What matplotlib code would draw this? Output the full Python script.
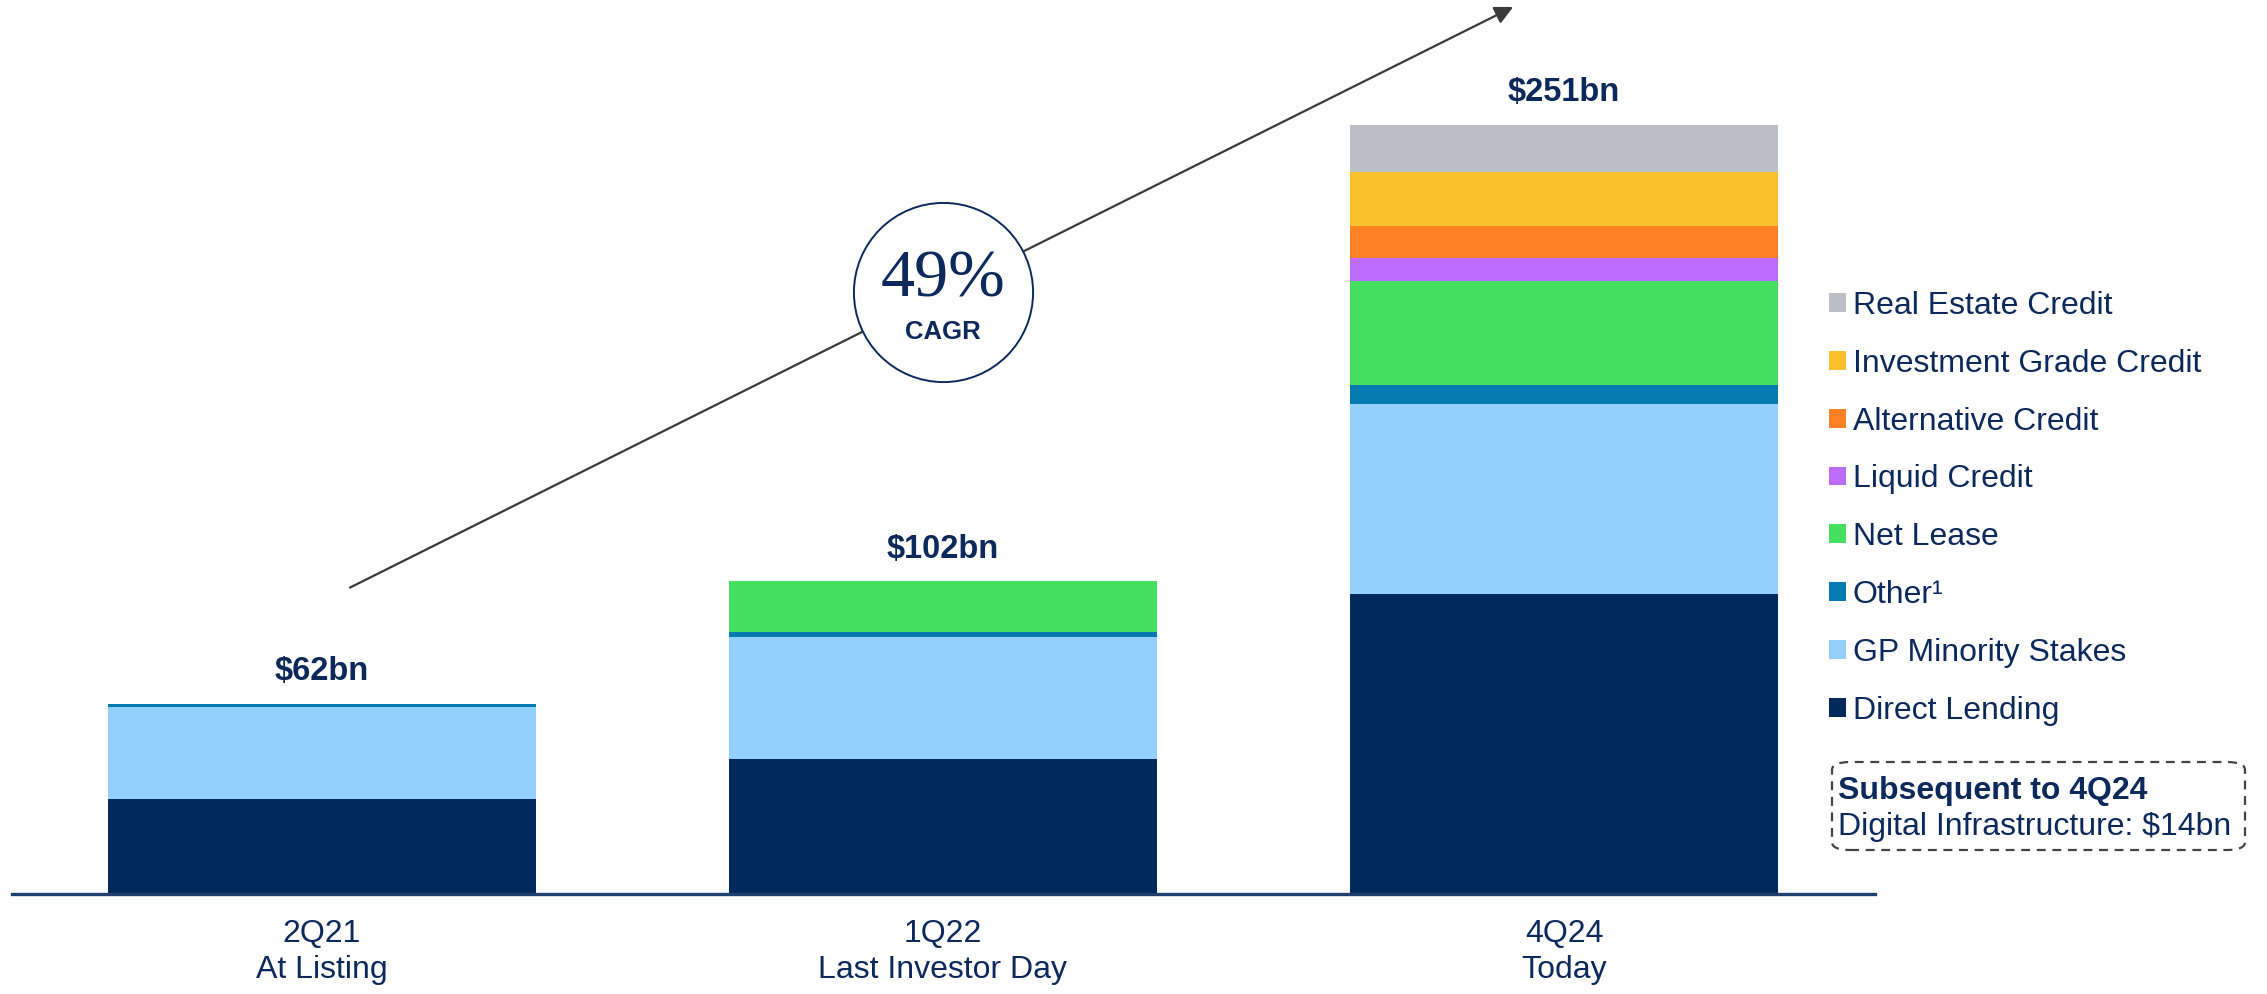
import matplotlib
matplotlib.use("Agg")
from matplotlib import pyplot as plt
from matplotlib.patches import Patch, FancyBboxPatch
import numpy as np

plt.rcParams['font.family'] = ['Liberation Sans', 'DejaVu Sans']

NAVY = "#0B2A5B"

periods = ["2Q21\nAt Listing", "1Q22\nLast Investor Day", "4Q24\nToday"]
totals = [62, 102, 251]

# AUM by strategy, $bn (bottom to top)
direct_lending = [31, 44, 98]
gp_minority = [30, 40, 62]
other = [1, 1.5, 6]
net_lease = [0, 16.5, 34]
liquid_credit = [0, 0, 7.5]
alternative_credit = [0, 0, 10.5]
ig_credit = [0, 0, 17.5]
real_estate_credit = [0, 0, 15.5]

series = [
    ("Direct Lending", direct_lending, "#002A5C"),
    ("GP Minority Stakes", gp_minority, "#93D1FC"),
    ("Other¹", other, "#037BB0"),
    ("Net Lease", net_lease, "#46E060"),
    ("Liquid Credit", liquid_credit, "#BC6DFF"),
    ("Alternative Credit", alternative_credit, "#FF8124"),
    ("Investment Grade Credit", ig_credit, "#F9C12C"),
    ("Real Estate Credit", real_estate_credit, "#BBBEC7"),
]

cagr_label = "49%"

W, H = 2267, 994
fig = plt.figure(figsize=(W / 100, H / 100), dpi=100)
# axes: x from 11.5px to 1874.5px, baseline at 894px, 3.064 px per $bn
ax = fig.add_axes([11.5 / W, 100 / H, 1863 / W, 890 / H])
ax.set_xlim(-0.5, 2.5)
ax.set_ylim(0, 890 / 3.064)

x = np.arange(len(periods))
bottom = np.zeros(len(periods))
handles = []
for name, vals, color in series:
    vals = np.array(vals, dtype=float)
    ax.bar(x, vals, width=0.69, bottom=bottom, color=color, linewidth=0, zorder=2)
    bottom += vals
    handles.append(Patch(facecolor=color, label=name))

for xi, tot in zip(x, totals):
    ax.text(xi, tot + 10.5, f"${tot}bn", ha="center", va="center",
            fontsize=23.5, fontweight="bold", color=NAVY)

# growth arrow with CAGR badge
ax.annotate("", xy=(1.918, 289.5), xytext=(0.045, 100),
            arrowprops=dict(arrowstyle="-|>,head_length=1.1,head_width=0.55",
                            color="#3A3A3A", lw=1.6, shrinkA=0, shrinkB=0),
            zorder=3, annotation_clip=False)
ax.plot([1.0], [196.5], marker="o", markersize=129, markerfacecolor="white",
        markeredgecolor=NAVY, markeredgewidth=1.4, zorder=4, clip_on=False)
ax.text(1.0, 196.5 + 4, cagr_label, ha="center", va="center", fontsize=49,
        family="Liberation Serif", color=NAVY, zorder=5)
ax.text(1.0, 196.5 - 13, "CAGR", ha="center", va="center", fontsize=18.5,
        fontweight="bold", color=NAVY, zorder=5)

for s in ["top", "right", "left"]:
    ax.spines[s].set_visible(False)
ax.spines["bottom"].set_color("#1F3F6E")
ax.spines["bottom"].set_linewidth(2.4)
ax.set_yticks([])
ax.set_xticks(x)
ax.set_xticklabels(periods, fontsize=23, color=NAVY, linespacing=1.25)
ax.tick_params(axis="x", length=0, pad=18)

leg = fig.legend(handles=handles[::-1], loc="upper left",
                 bbox_to_anchor=(1829 / W, 1 - 291 / H), frameon=False,
                 fontsize=23, handlelength=0.53, handleheight=0.53,
                 handletextpad=0.22, labelspacing=0.87, borderaxespad=0,
                 borderpad=0)
for t in leg.get_texts():
    t.set_color(NAVY)

box = FancyBboxPatch((1832 / W, 1 - 850 / H), 413 / W, 88 / H,
                     boxstyle="round,pad=0,rounding_size=0.008",
                     transform=fig.transFigure, fill=False,
                     edgecolor="#444444", linewidth=1.6, linestyle=(0, (4, 3)))
fig.patches.append(box)
fig.text(1838 / W, 1 - 791 / H, "Subsequent to 4Q24", ha="left", va="center",
         fontsize=23, fontweight="bold", color=NAVY)
fig.text(1838 / W, 1 - 827 / H, "Digital Infrastructure: $14bn", ha="left",
         va="center", fontsize=23, color=NAVY)

fig.savefig("out.png", dpi=100, facecolor="white")
